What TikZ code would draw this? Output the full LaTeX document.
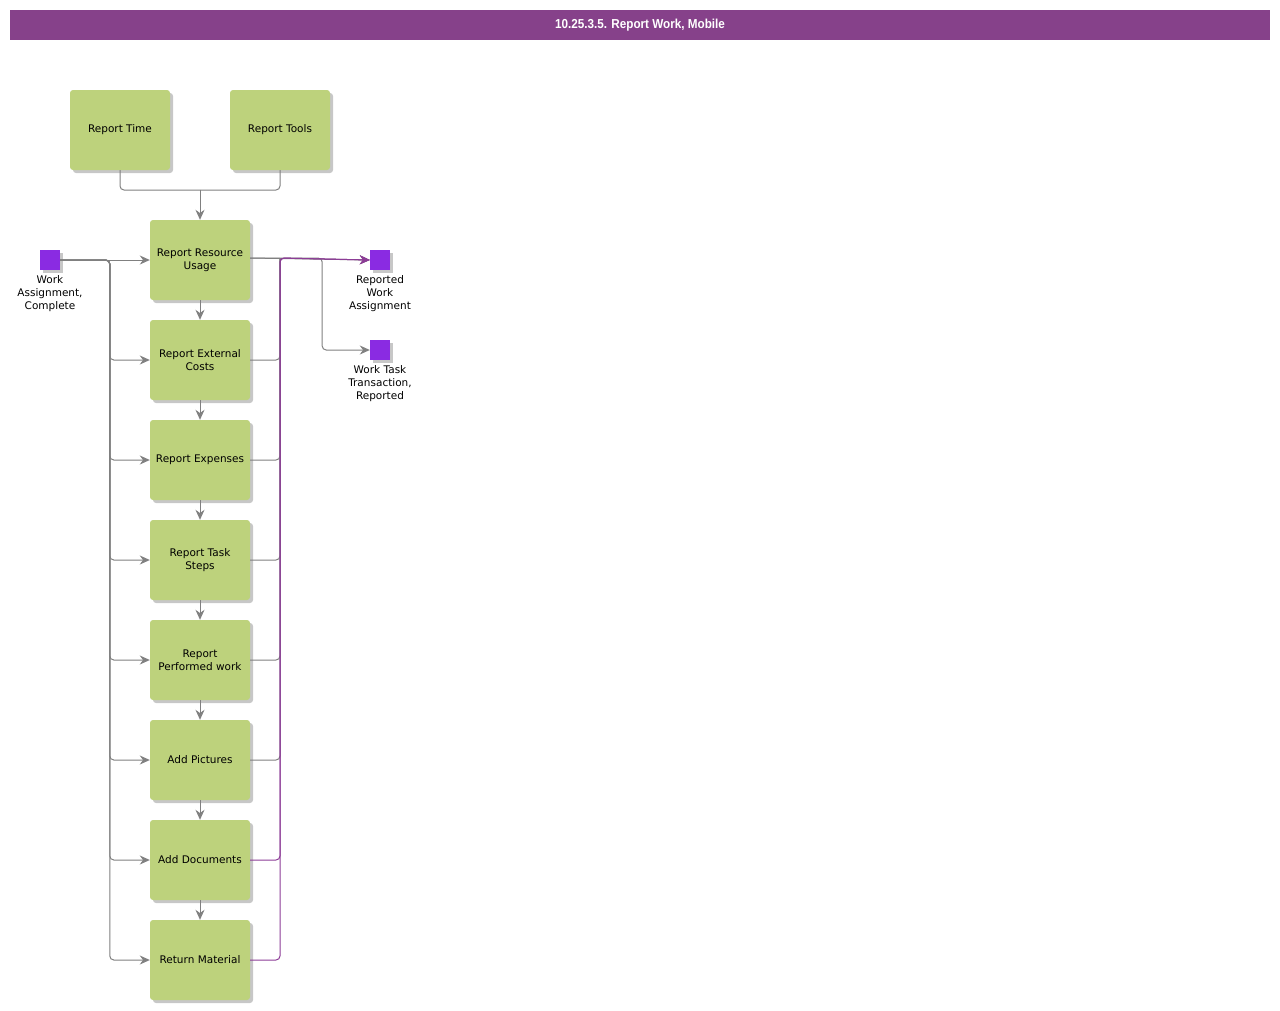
\documentclass[tikz,border=0pt]{standalone}
\usepackage{fontspec}
\setmainfont{DejaVu Sans}
\newfontfamily\titlefont[FakeStretch=0.9]{Liberation Sans}
\usetikzlibrary{shadows,arrows.meta}
\definecolor{titlebg}{RGB}{134,65,138}
\definecolor{boxfill}{RGB}{189,210,124}
\definecolor{evfill}{RGB}{138,43,226}
\definecolor{gline}{RGB}{128,128,128}
\definecolor{pline}{RGB}{140,60,150}
\tikzset{
  shad/.style={drop shadow={shadow xshift=3pt,shadow yshift=-3pt,fill=black!22,opacity=1}},
  taskbox/.style={shad,fill=boxfill,rounded corners=3pt,minimum width=100pt,minimum height=80pt,
    inner sep=1pt,align=center,font=\fontsize{10.5}{13}\selectfont},
  evbox/.style={shad,fill=evfill,minimum width=20pt,minimum height=20pt,inner sep=0pt},
  evlabel/.style={anchor=north,align=center,inner sep=0pt,font=\fontsize{10.5}{13}\selectfont},
  gconn/.style={draw=gline,line width=1pt,rounded corners=4pt,-{Stealth[length=10pt,width=9pt]}},
  pconn/.style={draw=pline,line width=1pt,rounded corners=4pt,-{Stealth[length=10pt,width=9pt]}},
  gplain/.style={draw=gline,line width=1pt,rounded corners=4pt},
}
\begin{document}
\begin{tikzpicture}[x=1pt,y=-1pt]
\useasboundingbox (0,0) rectangle (1280,1010);
\node[fill=titlebg,minimum width=1260pt,minimum height=30pt,inner sep=0pt,text=white,
  font=\titlefont\bfseries\fontsize{13}{15}\selectfont] (title) at (640,25) {10.25.3.5. Report Work, Mobile};

\node[taskbox] (rtime) at (120,130) {Report Time};
\node[taskbox] (rtools) at (280,130) {Report Tools};
\node[taskbox] (rru) at (200,260) {Report Resource\\Usage};
\node[taskbox] (rec) at (200,360) {Report External\\Costs};
\node[taskbox] (rexp) at (200,460) {Report Expenses};
\node[taskbox] (rts) at (200,560) {Report Task\\Steps};
\node[taskbox] (rpw) at (200,660) {Report\\Performed work};
\node[taskbox] (ap) at (200,760) {Add Pictures};
\node[taskbox] (ad) at (200,860) {Add Documents};
\node[taskbox] (rm) at (200,960) {Return Material};

\node[evbox] (wac) at (50,260) {};
\node[evlabel] (wacl) at ([yshift=-5pt]wac.south) {Work\\Assignment,\\Complete};
\node[evbox] (rwa) at (380,260) {};
\node[evlabel] (rwal) at ([yshift=-5pt]rwa.south) {Reported\\Work\\Assignment};
\node[evbox] (wtt) at (380,350) {};
\node[evlabel] (wttl) at ([yshift=-5pt]wtt.south) {Work Task\\Transaction,\\Reported};

\coordinate (j) at (200,190);
\draw[gplain] (rtime.south) |- (j);
\draw[gplain] (rtools.south) |- (j);
\draw[gconn] (j) -- (rru.north);

\draw[gconn] (rru.south) -- (rec.north);
\draw[gconn] (rec.south) -- (rexp.north);
\draw[gconn] (rexp.south) -- (rts.north);
\draw[gconn] (rts.south) -- (rpw.north);
\draw[gconn] (rpw.south) -- (ap.north);
\draw[gconn] (ap.south) -- (ad.north);
\draw[gconn] (ad.south) -- (rm.north);

\draw[gconn] (wac.east) -- (rru.west);
\foreach \b in {rec,rexp,rts,rpw,ap,ad,rm}{
  \draw[gconn] (wac.east) -| ([xshift=-40pt]\b.west) -- (\b.west);
}

\coordinate (rtop) at (280,258);
\draw[gconn] (rru.east |- rtop) -- ++(72,0) |- (wtt.west);
\draw[gconn] (rru.east |- rtop) -- (rwa.west);
\foreach \b in {rec,rexp,rts,rpw,ap}{
  \draw[gplain] (\b.east) -| (rtop);
}
\draw[pconn] (rm.east) -| (rtop) -- (rwa.west);
\draw[pconn] (ad.east) -| (rtop) -- (rwa.west);
\end{tikzpicture}
\end{document}
